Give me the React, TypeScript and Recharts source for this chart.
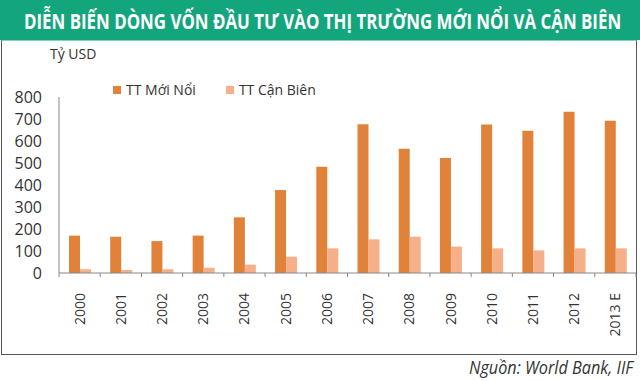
import { useLayoutEffect, useRef, useState } from "react";
import { BarChart, Bar, XAxis, YAxis, Legend } from "recharts";

const YEARS = ["2000", "2001", "2002", "2003", "2004", "2005", "2006", "2007", "2008", "2009", "2010", "2011", "2012", "2013 E"];
const EMERGING = [170, 165, 145, 170, 253, 377, 483, 676, 565, 523, 675, 647, 733, 692];
const FRONTIER = [17, 14, 17, 24, 38, 74, 112, 153, 165, 120, 112, 103, 112, 112];
const Y_TICKS = [0, 100, 200, 300, 400, 500, 600, 700, 800];

const ORANGE = "#e0823a";
const PINK = "#f5b08a";
const GREEN = "#13a57b";
const FONT = "'Open Sans', 'DejaVu Sans', sans-serif";

const data = YEARS.map((year, i) => ({
  year,
  emerging: EMERGING[i],
  frontier: FRONTIER[i],
}));

// text squeezed horizontally to a target width (stand-in for a condensed font)
function Squeezed({ text, width, style }: { text: string; width: number; style: any }) {
  const ref = useRef<HTMLSpanElement>(null);
  const [scale, setScale] = useState(1);
  useLayoutEffect(() => {
    if (ref.current) setScale(width / ref.current.offsetWidth);
  }, [text, width]);
  return (
    <span
      ref={ref}
      style={{
        ...style,
        display: "inline-block",
        whiteSpace: "nowrap",
        transform: `scaleX(${scale})`,
        transformOrigin: "left center",
      }}
    >
      {text}
    </span>
  );
}

// rotated year label plus a small tick on the left edge of each band
function YearTick(props: any) {
  const { x, y, payload, index } = props;
  const half = payload?.offset ?? 20.6;
  return (
    <g>
      <line x1={x - half} y1={y - 8} x2={x - half} y2={y - 4} stroke="#888" strokeWidth={1} />
      {index === YEARS.length - 1 && (
        <line x1={x + half} y1={y - 8} x2={x + half} y2={y - 4} stroke="#888" strokeWidth={1} />
      )}
      <text
        x={0}
        y={0}
        transform={`translate(${x + 5},${y + 12}) rotate(-90)`}
        textAnchor="end"
        fontSize={14}
        fill="#333"
        fontFamily={FONT}
      >
        {payload.value}
      </text>
    </g>
  );
}

function LegendBox() {
  const items = [
    { label: "TT Mới Nổi", color: ORANGE },
    { label: "TT Cận Biên", color: PINK },
  ];
  return (
    <div style={{ display: "flex", alignItems: "center", fontFamily: FONT, fontSize: 14, color: "#333" }}>
      {items.map((it) => (
        <div key={it.label} style={{ display: "flex", alignItems: "center", marginRight: 30 }}>
          <span style={{ width: 8, height: 8, background: it.color, display: "inline-block", marginRight: 5 }} />
          <span>{it.label}</span>
        </div>
      ))}
    </div>
  );
}

export default function App() {
  return (
    <div style={{ position: "absolute", top: 0, left: 0, width: 640, height: 381, background: "#fff", overflow: "hidden" }}>
      <div style={{ position: "absolute", top: 0, left: 0, width: 640, height: 40, background: GREEN }} />
      <div style={{ position: "absolute", top: 4, left: 24, lineHeight: "32px" }}>
        <Squeezed
          text="DIỄN BIẾN DÒNG VỐN ĐẦU TƯ VÀO THỊ TRƯỜNG MỚI NỔI VÀ CẬN BIÊN"
          width={597}
          style={{ color: "#fff", fontSize: 22, fontWeight: "bold", fontFamily: FONT }}
        />
      </div>
      <div
        style={{
          position: "absolute",
          top: 40,
          left: 1,
          width: 634,
          height: 313,
          border: "1.5px solid #555",
          borderTop: "1px solid #7fd6c0",
        }}
      />
      <div style={{ position: "absolute", top: 44, left: 50, fontFamily: FONT, fontSize: 14, color: "#333" }}>
        Tỷ USD
      </div>
      <div style={{ position: "absolute", top: 40, left: 0 }}>
        <BarChart
          width={640}
          height={314}
          data={data}
          margin={{ top: 57, right: 4, bottom: 0, left: 0 }}
          barGap={0}
          barSize={11}
        >
          <XAxis
            dataKey="year"
            height={81}
            tickLine={false}
            axisLine={{ stroke: "#888" }}
            tick={<YearTick />}
            interval={0}
          />
          <YAxis
            width={59}
            domain={[0, 800]}
            ticks={Y_TICKS}
            tickLine={false}
            axisLine={{ stroke: "#888" }}
            tickMargin={11}
            tick={{ fontSize: 16, fill: "#333", fontFamily: FONT }}
            interval={0}
          />
          <Legend
            verticalAlign="middle"
            align="center"
            content={<LegendBox />}
            wrapperStyle={{ top: 40, left: 113, width: 300 }}
          />
          <Bar dataKey="emerging" name="TT Mới Nổi" fill={ORANGE} isAnimationActive={false} />
          <Bar dataKey="frontier" name="TT Cận Biên" fill={PINK} isAnimationActive={false} />
        </BarChart>
      </div>
      <div style={{ position: "absolute", top: 354, left: 469, lineHeight: "26px" }}>
        <Squeezed
          text="Nguồn: World Bank, IIF"
          width={164}
          style={{ color: "#333", fontSize: 19, fontStyle: "italic", fontFamily: FONT }}
        />
      </div>
    </div>
  );
}
